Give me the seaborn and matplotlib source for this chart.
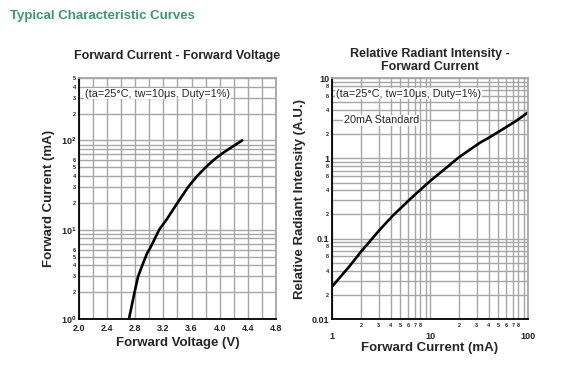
"""
Typical characteristic curves: forward current vs forward voltage and
relative radiant intensity vs forward current.
"""

import numpy as np
import matplotlib
matplotlib.use('Agg')
import matplotlib.pyplot as plt
import seaborn as sns

# Forward current vs forward voltage
fv_voltage = [2.71, 2.79, 2.84, 2.90, 2.97, 3.01, 3.14, 3.245, 3.40, 3.55, 3.68, 3.80, 3.91, 4.03, 4.18, 4.32]
fv_current = [1.0, 2.0, 3.0, 4.0, 5.5, 6.2, 10.0, 13.0, 20.0, 30.0, 40.0, 50.0, 60.0, 71.0, 85.0, 100.0]

# Relative radiant intensity vs forward current
ri_current = [1, 1.5, 2, 3, 4.2, 6.75, 10, 15, 19.5, 25, 32.5, 40, 52, 76.5, 100]
ri_intensity = [0.0253, 0.045, 0.07, 0.125, 0.195, 0.338, 0.52, 0.78, 1.02, 1.26, 1.57, 1.81, 2.2, 2.95, 3.73]

note_text = '(ta=25\u00b0C, tw=10\u03bcs, Duty=1%)'
GRID = '#a6a6a6'

sns.set_style('white')
plt.rcParams['font.family'] = ['Liberation Sans', 'DejaVu Sans']
plt.rcParams['mathtext.fontset'] = 'custom'
plt.rcParams['mathtext.rm'] = 'Liberation Sans:bold'
plt.rcParams['mathtext.it'] = 'Liberation Sans:bold'
plt.rcParams['mathtext.bf'] = 'Liberation Sans:bold'

fig = plt.figure(figsize=(5.65, 3.75), dpi=100)
fig.text(0.018, 0.972, 'Typical Characteristic Curves', color='#3a9a6c',
         fontsize=9.5, fontweight='bold', va='top', ha='left')


def style_frame(ax):
    for side in ['left', 'bottom']:
        ax.spines[side].set_color('black')
        ax.spines[side].set_linewidth(1.3)
    for side in ['top', 'right']:
        ax.spines[side].set_color(GRID)
        ax.spines[side].set_linewidth(1.3)
    ax.grid(True, which='both', color=GRID, linewidth=1.0)
    ax.set_axisbelow(True)


# ---- Left: Forward Current - Forward Voltage ----
ax1 = fig.add_axes([0.1398, 0.1493, 0.3487, 0.6427])
sns.lineplot(x=fv_voltage, y=fv_current, ax=ax1, color='black', linewidth=1.9)
ax1.set_yscale('log')
ax1.set_xlim(2.0, 4.8)
ax1.set_ylim(1, 500)

ax1.set_xticks(np.arange(2.0, 4.81, 0.4))
ax1.set_xticklabels([f'{v:.1f}' for v in np.arange(2.0, 4.81, 0.4)])
ax1.set_xticks(np.arange(2.2, 4.8, 0.4), minor=True)

ax1.set_yticks([1, 10, 100])
ax1.set_yticklabels([r'$10^{0}$', r'$10^{1}$', r'$10^{2}$'])
minor_y = []
minor_y_lab = []
for dec in [1, 10, 100]:
    for m in range(2, 10):
        if dec * m > 500:
            break
        minor_y.append(dec * m)
        minor_y_lab.append(str(m) if m <= 6 else '')
ax1.set_yticks(minor_y, minor=True)
ax1.set_yticklabels(minor_y_lab, minor=True)

ax1.tick_params(axis='x', which='major', labelsize=6.5, length=0, pad=3.5)
ax1.tick_params(axis='y', which='major', labelsize=6.5, length=0, pad=2)
ax1.tick_params(axis='y', which='minor', labelsize=4, length=0, pad=2)
ax1.tick_params(axis='x', which='minor', length=0)
for lab in ax1.get_xticklabels() + ax1.get_yticklabels(which='both'):
    lab.set_fontweight('bold')
style_frame(ax1)

ax1.set_xlabel('Forward Voltage (V)', fontsize=9.5, fontweight='bold', labelpad=3)
ax1.set_ylabel('Forward Current (mA)', fontsize=9.5, fontweight='bold', labelpad=4)
ax1.set_title('Forward Current - Forward Voltage', fontsize=9, fontweight='bold', pad=14)
ax1.text(0.03, 0.955, note_text, transform=ax1.transAxes, fontsize=7.8,
         va='top', ha='left',
         bbox=dict(facecolor='white', edgecolor='none', pad=0.5))

# ---- Right: Relative Radiant Intensity - Forward Current ----
ax2 = fig.add_axes([0.5876, 0.1493, 0.3469, 0.6427])
sns.lineplot(x=ri_current, y=ri_intensity, ax=ax2, color='black', linewidth=1.9)
ax2.set_xscale('log')
ax2.set_yscale('log')
ax2.set_xlim(1, 100)
ax2.set_ylim(0.01, 10)

ax2.set_xticks([1, 10, 100])
ax2.set_xticklabels(['1', '10', '100'])
minor_x = [d * m for d in [1, 10] for m in range(2, 10)]
minor_x_lab = [str(m) if m <= 8 else '' for d in [1, 10] for m in range(2, 10)]
ax2.set_xticks(minor_x, minor=True)
ax2.set_xticklabels(minor_x_lab, minor=True)

ax2.set_yticks([0.01, 0.1, 1, 10])
ax2.set_yticklabels(['0.01', '0.1', '1', '10'])
minor_y2 = [d * m for d in [0.01, 0.1, 1] for m in range(2, 10)]
minor_y2_lab = [str(m) if m % 2 == 0 else '' for d in [0.01, 0.1, 1] for m in range(2, 10)]
ax2.set_yticks(minor_y2, minor=True)
ax2.set_yticklabels(minor_y2_lab, minor=True)

ax2.tick_params(axis='x', which='major', labelsize=6.5, length=0, pad=9)
ax2.tick_params(axis='x', which='minor', labelsize=4, length=0, pad=3)
ax2.tick_params(axis='y', which='major', labelsize=6.5, length=0, pad=2)
ax2.tick_params(axis='y', which='minor', labelsize=4, length=0, pad=2)
for lab in ax2.get_xticklabels(which='both') + ax2.get_yticklabels(which='both'):
    lab.set_fontweight('bold')
style_frame(ax2)

ax2.set_xlabel('Forward Current (mA)', fontsize=9.5, fontweight='bold', labelpad=1)
ax2.set_ylabel('Relative Radiant Intensity (A.U.)', fontsize=9.5, fontweight='bold', labelpad=4)
ax2.set_title('Relative Radiant Intensity -\nForward Current', fontsize=9,
              fontweight='bold', pad=6, linespacing=1.05)
ax2.text(0.02, 0.955, note_text, transform=ax2.transAxes, fontsize=7.8,
         va='top', ha='left',
         bbox=dict(facecolor='white', edgecolor='none', pad=0.5))
ax2.text(0.06, 0.845, '20mA Standard', transform=ax2.transAxes, fontsize=7.8,
         va='top', ha='left',
         bbox=dict(facecolor='white', edgecolor='none', pad=0.5))

fig.savefig('out.png', dpi=100)
